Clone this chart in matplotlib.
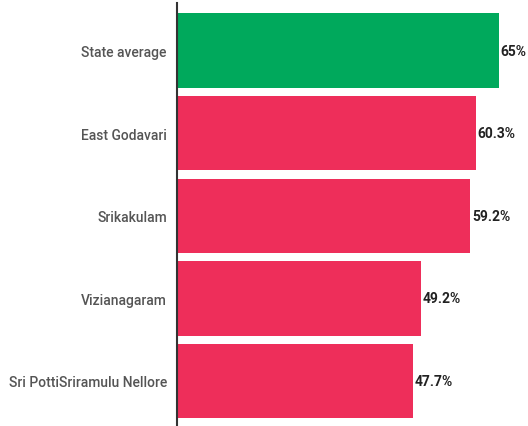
import matplotlib
matplotlib.use("Agg")
import matplotlib.pyplot as plt

districts = ["State average", "East Godavari", "Srikakulam", "Vizianagaram",
             "Sri PottiSriramulu Nellore"]
values = [65, 60.3, 59.2, 49.2, 47.7]
value_labels = ["65%", "60.3%", "59.2%", "49.2%", "47.7%"]
bar_colors = ["#00A95C", "#EE2E5A", "#EE2E5A", "#EE2E5A", "#EE2E5A"]

W, H = 528, 427
fig = plt.figure(figsize=(W / 100, H / 100), dpi=100)
left = 176.5 / W
px_per_unit = (499 - 176.5) / 65
xmax = (W - 176.5) / px_per_unit
ax = fig.add_axes([left, 0, 1 - left, (427 - 4) / H])

y = list(range(len(districts)))
ax.barh(y, values, height=0.9, color=bar_colors, zorder=2)
ax.set_xlim(0, xmax)
ax.set_ylim(4.545, -0.575)

for yi, v, lab in zip(y, values, value_labels):
    ax.text(v + 0.35, yi, lab, va="center", ha="left", fontsize=10,
            fontfamily="Roboto", fontweight="bold", color="#222222")

ax.set_yticks(y)
ax.set_yticklabels(districts, fontfamily="Roboto", fontweight="medium",
                   fontsize=10, color="#555555")
ax.tick_params(axis="y", length=0, pad=7)
ax.set_xticks([])
for s in ["top", "right", "bottom"]:
    ax.spines[s].set_visible(False)
ax.spines["left"].set_color("#333333")
ax.spines["left"].set_linewidth(1.5)
ax.spines["left"].set_zorder(3)

fig.savefig("out.png", dpi=100)
